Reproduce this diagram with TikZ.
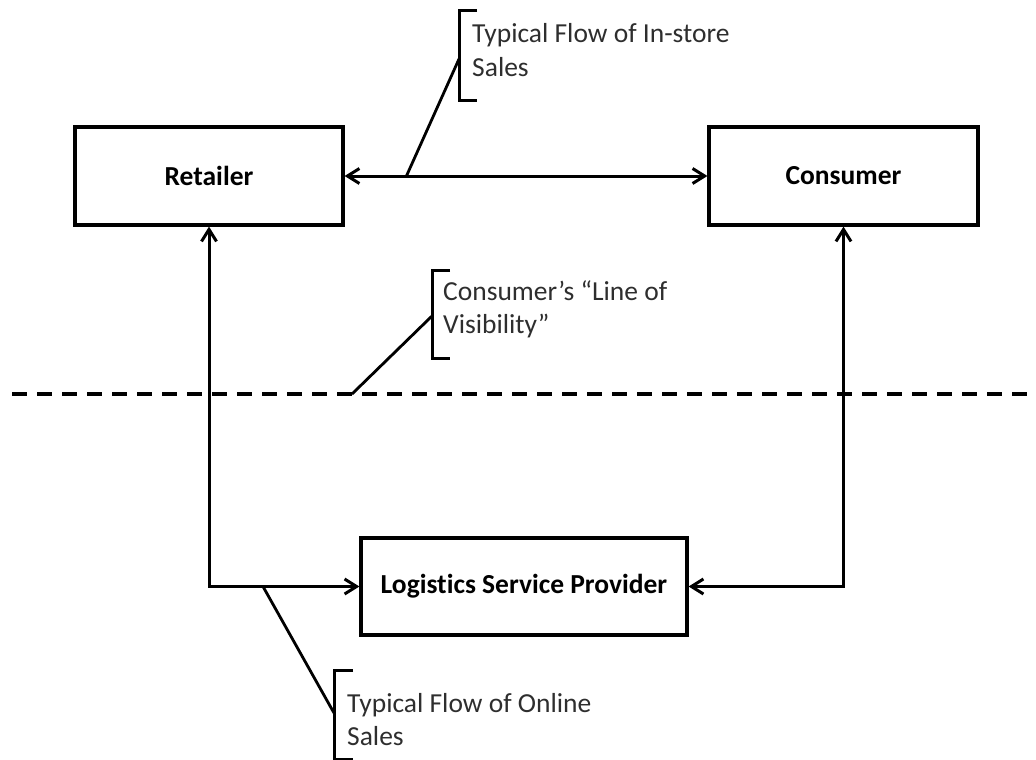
\documentclass[tikz,border=0pt]{standalone}
\usepackage{fontspec}
\setmainfont{Carlito}[Ligatures={NoCommon}]
\usetikzlibrary{arrows.meta}

\tikzset{
  stage/.style={draw=black, line width=3.2pt, fill=white, inner sep=0pt,
    font={\fontsize{27.5}{33.5}\selectfont\bfseries}, text=black},
  flow/.style={line width=3pt, {Straight Barb[length=12pt,width=15pt]}-{Straight Barb[length=12pt,width=15pt]}},
  leader/.style={line width=2.8pt},
  brace/.style={line width=3pt},
  note/.style={anchor=base west, inner sep=0pt, text=black!82,
    font={\fontsize{27.5}{33.5}\selectfont}},
  boundary/.style={line width=3.8pt, dash pattern=on 15pt off 10pt}
}

\begin{document}
\begin{tikzpicture}[x=1pt, y=-1pt]
  \useasboundingbox (0,0) rectangle (1036,760);

  % stakeholders
  \node[stage, minimum width=268pt, minimum height=98pt] (ret) at (209,176) {Retailer};
  \node[stage, minimum width=269pt, minimum height=98pt] (con) at (843.5,176) {Consumer};
  \node[stage, minimum width=326pt, minimum height=97pt] (lsp) at (524,586.5) {Logistics Service Provider};

  % flows between them
  \draw[flow] (ret) -- (con);
  \draw[flow] (ret.south) |- (lsp.west);
  \draw[flow] (con.south) |- (lsp.east);

  % the consumer's line of visibility
  \coordinate (vis-l) at (12,394);
  \coordinate (vis-r) at (1036,394);
  \draw[boundary] (vis-l) -- (vis-r);

  % callout: in-store sales
  \coordinate (in-foot) at (406,177);
  \coordinate (in-t) at (459,11);
  \coordinate (in-b) at (459,100);
  \coordinate (in-m) at (459,59);
  \draw[brace] ([xshift=18pt]in-t) -- (in-t) -- (in-b) -- ([xshift=18pt]in-b);
  \draw[leader] (in-foot) -- (in-m);
  \node[note] (in-text) at (472,43) {\vtop{\hbox{Typical Flow of In-store}\hbox{Sales}}};

  % callout: line of visibility
  \coordinate (vis-foot) at (352,394);
  \coordinate (vis-t) at (432,270);
  \coordinate (vis-b) at (432,358);
  \coordinate (vis-m) at (432,316);
  \draw[brace] ([xshift=18pt]vis-t) -- (vis-t) -- (vis-b) -- ([xshift=18pt]vis-b);
  \draw[leader] (vis-foot) -- (vis-m);
  \node[note] (vis-text) at (443,300) {\vtop{\hbox{Consumer’s “Line of}\hbox{Visibility”}}};

  % callout: online sales
  \coordinate (on-foot) at (263,586.5);
  \coordinate (on-t) at (334,670);
  \coordinate (on-b) at (334,759);
  \coordinate (on-m) at (334,713);
  \draw[brace] ([xshift=19pt]on-t) -- (on-t) -- (on-b) -- ([xshift=19pt]on-b);
  \draw[leader] (on-foot) -- (on-m);
  \node[note] (on-text) at (347,712) {\vtop{\hbox{Typical Flow of Online}\hbox{Sales}}};
\end{tikzpicture}
\end{document}
